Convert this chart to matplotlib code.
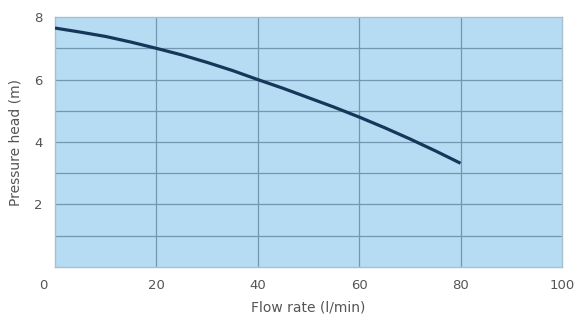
import matplotlib
matplotlib.use("Agg")
import matplotlib.pyplot as plt
from matplotlib.transforms import ScaledTranslation

# pump curve
flow = [0, 5, 10, 15, 20, 25, 30, 35, 40, 45, 50, 55, 60, 65, 70, 75, 80]
head = [7.65, 7.52, 7.38, 7.2, 7.0, 6.79, 6.55, 6.29, 6.0,
        5.72, 5.42, 5.12, 4.8, 4.46, 4.1, 3.72, 3.32]

x_ticks = [0, 20, 40, 60, 80, 100]
y_ticks = [2, 4, 6, 8]

fig = plt.figure(figsize=(5.76, 3.17), dpi=100)
ax = fig.add_axes([0.0955, 0.158, 0.88, 0.788])
ax.set_facecolor("#b5dcf3")

grid_col = "#7397b0"
for gx in range(20, 100, 20):
    ax.axvline(gx, color=grid_col, lw=0.9, zorder=1)
for gy in range(1, 8):
    ax.axhline(gy, color=grid_col, lw=0.9, zorder=1)

ax.plot(flow, head, color="#17375a", lw=2.3, zorder=3, solid_capstyle="butt")

ax.set_xlim(0, 100)
ax.set_ylim(0, 8)
ax.set_xticks(x_ticks)
ax.set_yticks(y_ticks)
ax.tick_params(length=0, labelsize=9.5, colors="#555555", pad=9)
for s in ax.spines.values():
    s.set_color("#a8bfce")
    s.set_linewidth(1.0)

# the "0" label sits left of the axis corner in the original
lbl0 = ax.get_xticklabels()[0]
lbl0.set_transform(lbl0.get_transform() + ScaledTranslation(-12 / 100, 0, fig.dpi_scale_trans))

ax.set_xlabel("Flow rate (l/min)", fontsize=10, color="#555555", labelpad=6)
ax.set_ylabel("Pressure head (m)", fontsize=10, color="#555555", labelpad=8)

fig.savefig("out.png", dpi=100)
